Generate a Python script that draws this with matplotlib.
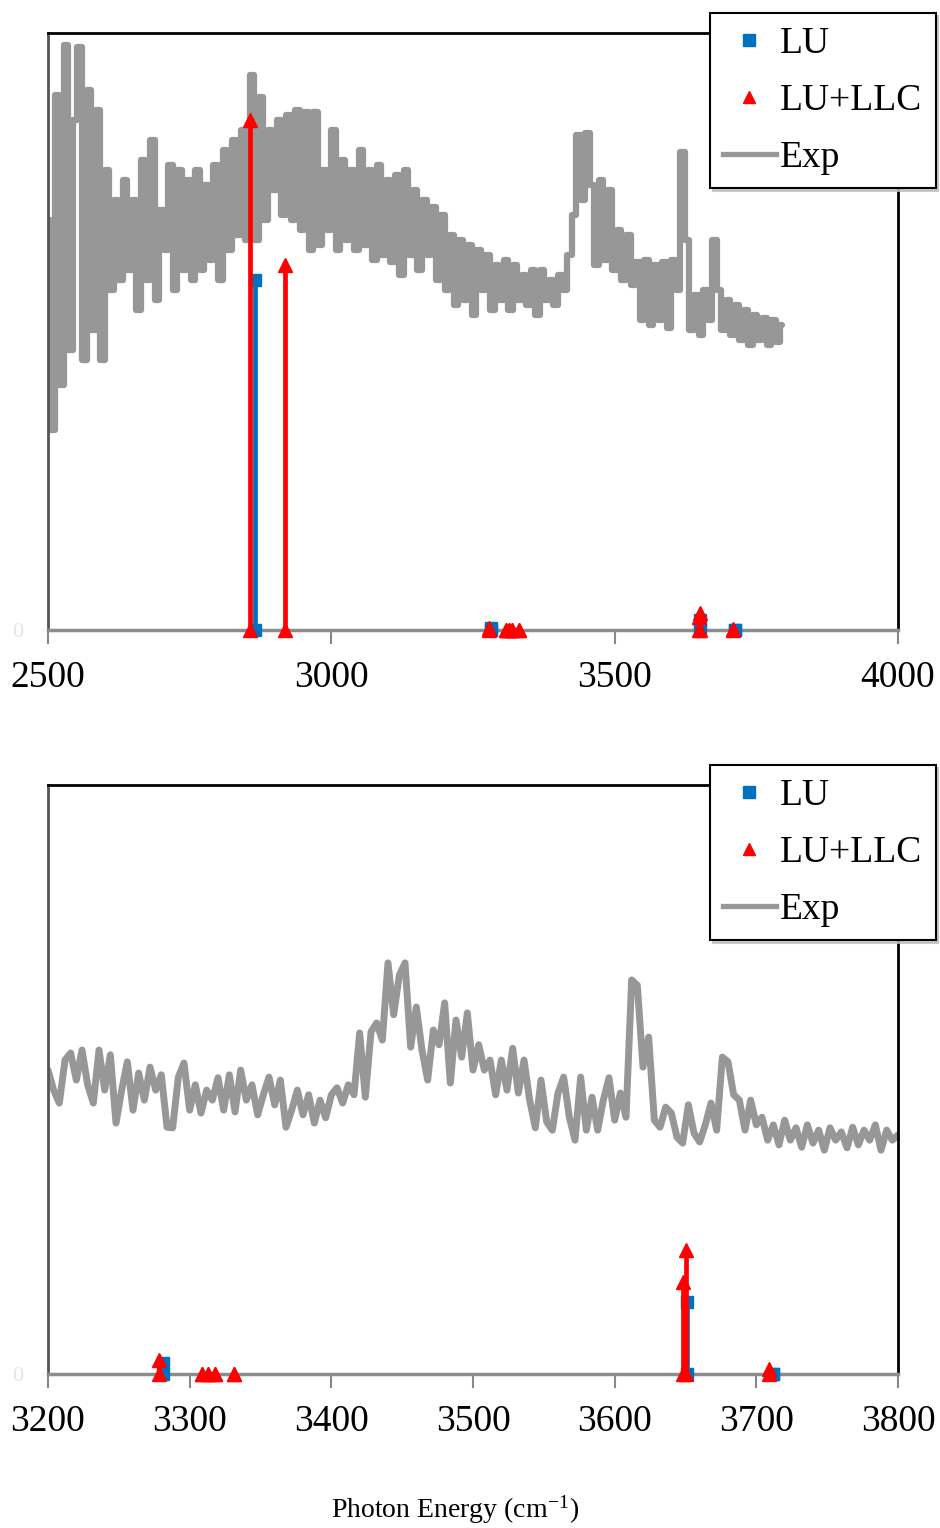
import numpy as np
import matplotlib
matplotlib.use('Agg')
import matplotlib.pyplot as plt
from matplotlib.lines import Line2D

plt.rcParams['font.family'] = ['Liberation Serif', 'DejaVu Serif']
plt.rcParams['mathtext.fontset'] = 'stix'

# experimental spectrum, upper panel (every 8 cm-1), normalised to panel height
exp_top_x = np.arange(2500, 3800, 8)
exp_top_y = [
    0.687, 0.335, 0.896, 0.410, 0.980, 0.469, 0.854, 0.977, 0.452, 0.905,
    0.503, 0.871, 0.452, 0.771, 0.570, 0.720, 0.586, 0.754, 0.603, 0.720,
    0.536, 0.787, 0.586, 0.821, 0.553, 0.704, 0.637, 0.779, 0.570, 0.771,
    0.603, 0.754, 0.586, 0.771, 0.603, 0.745, 0.620, 0.779, 0.586, 0.804,
    0.637, 0.821, 0.662, 0.838, 0.653, 0.930, 0.653, 0.893, 0.687, 0.838,
    0.737, 0.854, 0.695, 0.863, 0.687, 0.871, 0.670, 0.868, 0.637, 0.868,
    0.645, 0.771, 0.670, 0.838, 0.637, 0.787, 0.653, 0.771, 0.637, 0.804,
    0.645, 0.771, 0.620, 0.779, 0.628, 0.754, 0.616, 0.762, 0.595, 0.771,
    0.628, 0.737, 0.603, 0.720, 0.628, 0.709, 0.586, 0.695, 0.570, 0.662,
    0.544, 0.653, 0.553, 0.645, 0.528, 0.637, 0.570, 0.628, 0.536, 0.611,
    0.553, 0.620, 0.536, 0.611, 0.553, 0.595, 0.544, 0.603, 0.528, 0.603,
    0.553, 0.586, 0.544, 0.595, 0.570, 0.628, 0.695, 0.829, 0.720, 0.833,
    0.745, 0.611, 0.754, 0.620, 0.737, 0.603, 0.670, 0.586, 0.662, 0.578,
    0.616, 0.519, 0.620, 0.511, 0.611, 0.519, 0.616, 0.506, 0.620, 0.570,
    0.801, 0.653, 0.503, 0.561, 0.494, 0.570, 0.519, 0.653, 0.570, 0.503,
    0.553, 0.494, 0.544, 0.486, 0.536, 0.477, 0.528, 0.486, 0.523, 0.477,
    0.519, 0.482, 0.511,
]

# experimental spectrum, lower panel (every 4 cm-1)
exp_bot_x = np.arange(3200, 3801, 4)
exp_bot_y = [
    0.516, 0.482, 0.460, 0.533, 0.545, 0.499, 0.550, 0.491, 0.460, 0.550,
    0.482, 0.542, 0.426, 0.482, 0.530, 0.448, 0.511, 0.465, 0.521, 0.482,
    0.508, 0.419, 0.418, 0.504, 0.528, 0.448, 0.491, 0.443, 0.482, 0.465,
    0.503, 0.448, 0.508, 0.445, 0.516, 0.465, 0.491, 0.440, 0.474, 0.504,
    0.457, 0.499, 0.419, 0.448, 0.482, 0.440, 0.474, 0.426, 0.465, 0.435,
    0.474, 0.486, 0.460, 0.491, 0.474, 0.579, 0.470, 0.581, 0.596, 0.567,
    0.698, 0.610, 0.677, 0.698, 0.555, 0.623, 0.550, 0.499, 0.584, 0.559,
    0.630, 0.494, 0.601, 0.538, 0.613, 0.516, 0.559, 0.516, 0.533, 0.474,
    0.533, 0.482, 0.553, 0.477, 0.533, 0.465, 0.418, 0.499, 0.428, 0.414,
    0.477, 0.504, 0.436, 0.397, 0.504, 0.414, 0.470, 0.414, 0.465, 0.503,
    0.431, 0.477, 0.436, 0.669, 0.660, 0.521, 0.572, 0.431, 0.419, 0.453,
    0.443, 0.402, 0.392, 0.457, 0.409, 0.394, 0.423, 0.460, 0.414, 0.538,
    0.530, 0.474, 0.465, 0.414, 0.465, 0.423, 0.436, 0.397, 0.423, 0.389,
    0.431, 0.397, 0.418, 0.385, 0.423, 0.392, 0.414, 0.380, 0.418, 0.397,
    0.411, 0.384, 0.419, 0.389, 0.414, 0.397, 0.423, 0.380, 0.414, 0.397,
    0.406,
]

# calculated stick spectra (same intensity scale in both panels)
lu_freq = [2866, 3281, 3651, 3712]
lu_int = [0.586, 0.0026, 0.0168, 0.0]
llc_freq = [2856, 2918, 3278, 3309, 3313, 3318, 3331, 3648, 3650, 3709]
llc_int = [0.854, 0.611, 0.0033, 0.0, 0.0, 0.0, 0.0, 0.0214, 0.0288, 0.0012]

top_ticks = [2500, 3000, 3500, 4000]
bot_ticks = [3200, 3300, 3400, 3500, 3600, 3700, 3800]

blue = '#0070C0'
red = '#FF0000'
gray = '#979797'

W, H = 940, 1528
fig = plt.figure(figsize=(W / 100, H / 100), dpi=100)

panels = [
    dict(rect=[48 / W, 1 - 630 / H, 850 / W, 597 / H], xlim=(2500, 4000), ticks=top_ticks,
         ex=exp_top_x, ey=exp_top_y, ds='steps-mid', lw=4.5, smax=1.0,
         leg=(710 / W, 1 - 13 / H)),
    dict(rect=[48 / W, 1 - 1374 / H, 850 / W, 589 / H], xlim=(3200, 3800), ticks=bot_ticks,
         ex=exp_bot_x, ey=exp_bot_y, ds='default', lw=5.0, smax=0.137,
         leg=(710 / W, 1 - 765 / H)),
]

for p in panels:
    ax = fig.add_axes(p['rect'])
    ax.plot(p['ex'], p['ey'], color=gray, lw=p['lw'], drawstyle=p['ds'],
            solid_joinstyle='round', solid_capstyle='round')
    ax.set_xlim(*p['xlim'])
    ax.set_ylim(0, 1)
    ax.set_xticks(p['ticks'])
    ax.set_yticks([0])
    ax.set_yticklabels(['0'], color='#e6e6e6', fontsize=16)
    ax.tick_params(axis='x', direction='out', length=10, width=1.5, color='#888888',
                   labelsize=27, pad=12)
    ax.tick_params(axis='y', length=0, pad=18)
    ax.spines['left'].set_color('#555555')
    ax.spines['left'].set_linewidth(2)
    ax.spines['top'].set_color('black')
    ax.spines['top'].set_linewidth(2)
    ax.spines['right'].set_color('black')
    ax.spines['right'].set_linewidth(2)
    ax.spines['bottom'].set_color('#8c8c8c')
    ax.spines['bottom'].set_linewidth(2.5)

    # sticks on a twin axis so they sit above the experimental trace
    ax2 = ax.twinx()
    ax2.set_ylim(0, p['smax'])
    ax2.axis('off')
    ax2.vlines(lu_freq, 0, lu_int, color=blue, lw=3.4, clip_on=False)
    ax2.plot(lu_freq, lu_int, ls='none', marker='s', ms=9, color=blue, clip_on=False)
    ax2.plot(lu_freq, [0] * len(lu_freq), ls='none', marker='s', ms=9, color=blue, clip_on=False)
    ax2.vlines(llc_freq, 0, llc_int, color=red, lw=3.4, clip_on=False)
    ax2.plot(llc_freq, llc_int, ls='none', marker='^', ms=10, color=red, clip_on=False)
    ax2.plot(llc_freq, [0] * len(llc_freq), ls='none', marker='^', ms=10, color=red, clip_on=False)

    handles = [Line2D([], [], ls='none', marker='s', ms=9, color=blue),
               Line2D([], [], ls='none', marker='^', ms=9, color=red),
               Line2D([], [], color=gray, lw=3.8)]
    leg = ax2.legend(handles, ['LU', 'LU+LLC', 'Exp'], loc='upper left',
                     bbox_to_anchor=p['leg'], bbox_transform=fig.transFigure,
                     borderaxespad=0, fontsize=27, frameon=True, fancybox=False,
                     shadow={'color': '0.75', 'alpha': 0.8}, framealpha=1,
                     handlelength=1.4, handletextpad=0.12, labelspacing=0.6,
                     borderpad=0.35)
    leg.get_frame().set_edgecolor('black')
    leg.get_frame().set_linewidth(1.5)

fig.text(455 / W, 1 - 1510 / H, 'Photon Energy (cm$^{\\mathregular{-1}}$)',
         ha='center', va='center', fontsize=20)

fig.savefig('out.png', dpi=100)
